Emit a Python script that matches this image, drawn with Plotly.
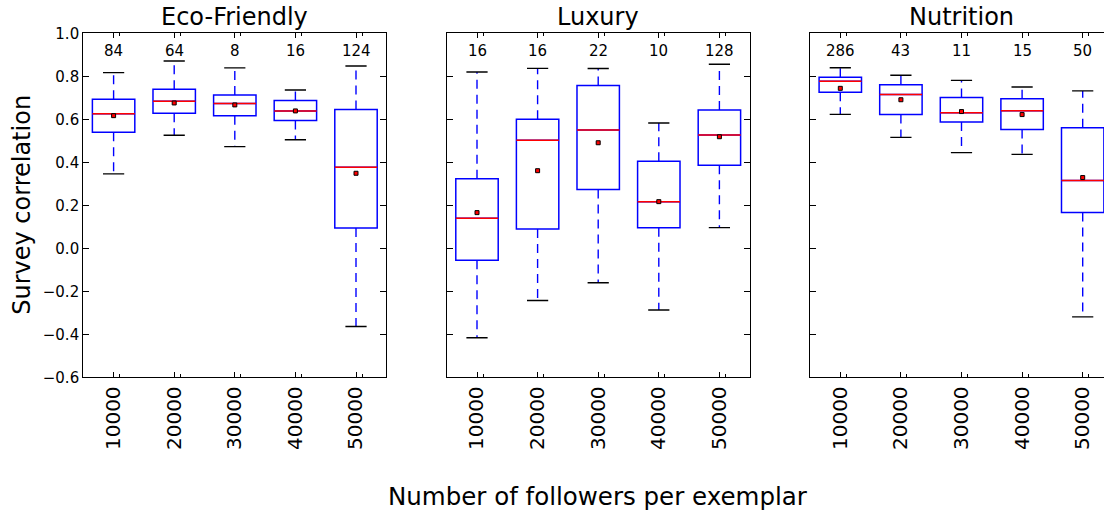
import plotly.graph_objects as go

# ---------------- data ----------------
followers = [10000, 20000, 30000, 40000, 50000]
follower_labels = ["10000", "20000", "30000", "40000", "50000"]
panel_titles = ["Eco-Friendly", "Luxury", "Nutrition"]

eco_whislo = [0.346, 0.526, 0.473, 0.505, -0.364]
eco_q1 = [0.540, 0.628, 0.616, 0.594, 0.095]
eco_med = [0.626, 0.684, 0.674, 0.639, 0.377]
eco_q3 = [0.693, 0.740, 0.713, 0.688, 0.645]
eco_whishi = [0.817, 0.871, 0.839, 0.736, 0.848]
eco_mean = [0.617, 0.676, 0.667, 0.639, 0.349]
eco_n = [84, 64, 8, 16, 124]

lux_whislo = [-0.416, -0.243, -0.160, -0.287, 0.096]
lux_q1 = [-0.056, 0.090, 0.274, 0.096, 0.386]
lux_med = [0.140, 0.502, 0.550, 0.217, 0.527]
lux_q3 = [0.324, 0.600, 0.757, 0.405, 0.643]
lux_whishi = [0.820, 0.837, 0.836, 0.583, 0.856]
lux_mean = [0.166, 0.361, 0.491, 0.217, 0.519]
lux_n = [16, 16, 22, 10, 128]

nut_whislo = [0.623, 0.516, 0.445, 0.437, -0.319]
nut_q1 = [0.726, 0.622, 0.588, 0.553, 0.167]
nut_med = [0.777, 0.715, 0.631, 0.640, 0.315]
nut_q3 = [0.795, 0.761, 0.701, 0.696, 0.561]
nut_whishi = [0.840, 0.805, 0.781, 0.750, 0.732]
nut_mean = [0.744, 0.691, 0.636, 0.622, 0.329]
nut_n = [286, 43, 11, 15, 50]

count_label_y = 0.92
y_ticks = [-0.6, -0.4, -0.2, 0.0, 0.2, 0.4, 0.6, 0.8, 1.0]

panels = [
    (eco_whislo, eco_q1, eco_med, eco_q3, eco_whishi, eco_mean, eco_n),
    (lux_whislo, lux_q1, lux_med, lux_q3, lux_whishi, lux_mean, lux_n),
    (nut_whislo, nut_q1, nut_med, nut_q3, nut_whishi, nut_mean, nut_n),
]

# ---------------- style / layout ----------------
W, H = 1104, 510
FONT = "DejaVu Sans"
BLUE = "#0000ff"
RED = "#ff0000"
step = followers[1] - followers[0]
box_w = 0.7 * step
cap_half = 0.175 * step
minor_off = 0.1 * step

px_left = [83.3, 446.7, 810.0]
px_w = 303.0
plot_top, plot_bot = 33.3, 377.3
ydom = [(H - plot_bot) / H, (H - plot_top) / H]
x_ranges = [
    [followers[0] - 0.5 * step, followers[-1] + 0.5 * step],
    [followers[0] - 0.5 * step, followers[-1] + 0.5 * step],
    [followers[0] - 0.5 * step, followers[0] - 0.5 * step + (W - px_left[2]) / px_w * 5 * step],
]

fig = go.Figure()
annotations = []

for p, (wlo, q1, med, q3, whi, mean, n) in enumerate(panels):
    xa = "x" if p == 0 else f"x{p+1}"
    ya = "y" if p == 0 else f"y{p+1}"
    # whiskers (dashed)
    wx, wy = [], []
    for f, a, b, c, d in zip(followers, q3, whi, q1, wlo):
        wx += [f, f, None, f, f, None]
        wy += [a, b, None, c, d, None]
    fig.add_trace(go.Scatter(x=wx, y=wy, mode="lines", xaxis=xa, yaxis=ya,
                             line=dict(color=BLUE, width=1.4, dash="9px,6px"),
                             hoverinfo="skip", showlegend=False))
    # caps
    cx, cy = [], []
    for f, b, d in zip(followers, whi, wlo):
        cx += [f - cap_half, f + cap_half, None, f - cap_half, f + cap_half, None]
        cy += [b, b, None, d, d, None]
    fig.add_trace(go.Scatter(x=cx, y=cy, mode="lines", xaxis=xa, yaxis=ya,
                             line=dict(color="black", width=1.4),
                             hoverinfo="skip", showlegend=False))
    # boxes
    fig.add_trace(go.Box(x=followers, q1=q1, median=med, q3=q3,
                         lowerfence=q1, upperfence=q3, width=box_w,
                         whiskerwidth=0, boxpoints=False, xaxis=xa, yaxis=ya,
                         line=dict(color=BLUE, width=1.5),
                         fillcolor="rgba(255,255,255,0)", showlegend=False))
    # medians
    mx, my = [], []
    for f, m in zip(followers, med):
        mx += [f - box_w / 2, f + box_w / 2, None]
        my += [m, m, None]
    fig.add_trace(go.Scatter(x=mx, y=my, mode="lines", xaxis=xa, yaxis=ya,
                             line=dict(color=RED, width=1.5),
                             hoverinfo="skip", showlegend=False))
    # means
    fig.add_trace(go.Scatter(x=followers, y=mean, mode="markers", xaxis=xa, yaxis=ya,
                             marker=dict(symbol="square", size=4, color=RED,
                                         line=dict(color="black", width=1)),
                             showlegend=False))
    # counts
    for f, c in zip(followers, n):
        annotations.append(dict(x=f, y=count_label_y, xref=xa, yref=ya, text=str(c),
                                showarrow=False, font=dict(family=FONT, size=15, color="black"),
                                xanchor="center", yanchor="middle"))
    # panel title
    cx_paper = (px_left[p] + px_w / 2) / W
    annotations.append(dict(x=cx_paper, y=ydom[1], xref="paper", yref="paper",
                            text=panel_titles[p], showarrow=False, yanchor="bottom",
                            xanchor="center", yshift=0,
                            font=dict(family=FONT, size=24, color="black")))

# axis titles
annotations.append(dict(x=22.5 / W, y=(ydom[0] + ydom[1]) / 2, xref="paper", yref="paper",
                        text="Survey correlation", showarrow=False, textangle=-90,
                        xanchor="center", yanchor="middle",
                        font=dict(family=FONT, size=24, color="black")))
annotations.append(dict(x=597.5 / W, y=(H - 496) / H, xref="paper", yref="paper",
                        text="Number of followers per exemplar", showarrow=False,
                        xanchor="center", yanchor="middle",
                        font=dict(family=FONT, size=24.5, color="black")))

layout = dict(width=W, height=H, margin=dict(l=0, r=0, t=0, b=0),
              paper_bgcolor="white", plot_bgcolor="white",
              font=dict(family=FONT, color="black"),
              annotations=annotations, showlegend=False)

for p in range(3):
    xk = "xaxis" if p == 0 else f"xaxis{p+1}"
    yk = "yaxis" if p == 0 else f"yaxis{p+1}"
    x0 = px_left[p] / W
    x1 = min((px_left[p] + px_w) / W, 1.0)
    layout[xk] = dict(domain=[x0, x1], range=x_ranges[p], anchor="y" if p == 0 else f"y{p+1}",
                      tickmode="array", tickvals=followers, ticktext=follower_labels,
                      tickangle=-90, ticks="inside", ticklen=5, tickwidth=1, tickcolor="black",
                      showline=True, linecolor="black", linewidth=1.2, mirror="ticks",
                      showgrid=False, zeroline=False, automargin=False,
                      tickfont=dict(family=FONT, size=20, color="black"),
                      minor=dict(tickmode="array",
                                 tickvals=[f + minor_off for f in followers],
                                 ticks="inside", ticklen=3, tickwidth=1, tickcolor="black",
                                 showgrid=False))
    layout[yk] = dict(domain=ydom, range=[y_ticks[0], y_ticks[-1]],
                      anchor="x" if p == 0 else f"x{p+1}",
                      tickmode="array", tickvals=y_ticks,
                      ticktext=[f"{v:.1f}".replace("-", "\u2212") for v in y_ticks],
                      showticklabels=(p == 0),
                      ticks="inside", ticklen=6, tickwidth=1, tickcolor="black",
                      showline=True, linecolor="black", linewidth=1.2,
                      mirror="ticks" if p < 2 else False,
                      showgrid=False, zeroline=False, automargin=False,
                      tickfont=dict(family=FONT, size=15, color="black"))

fig.update_layout(**layout)
fig.write_html("out.html")
